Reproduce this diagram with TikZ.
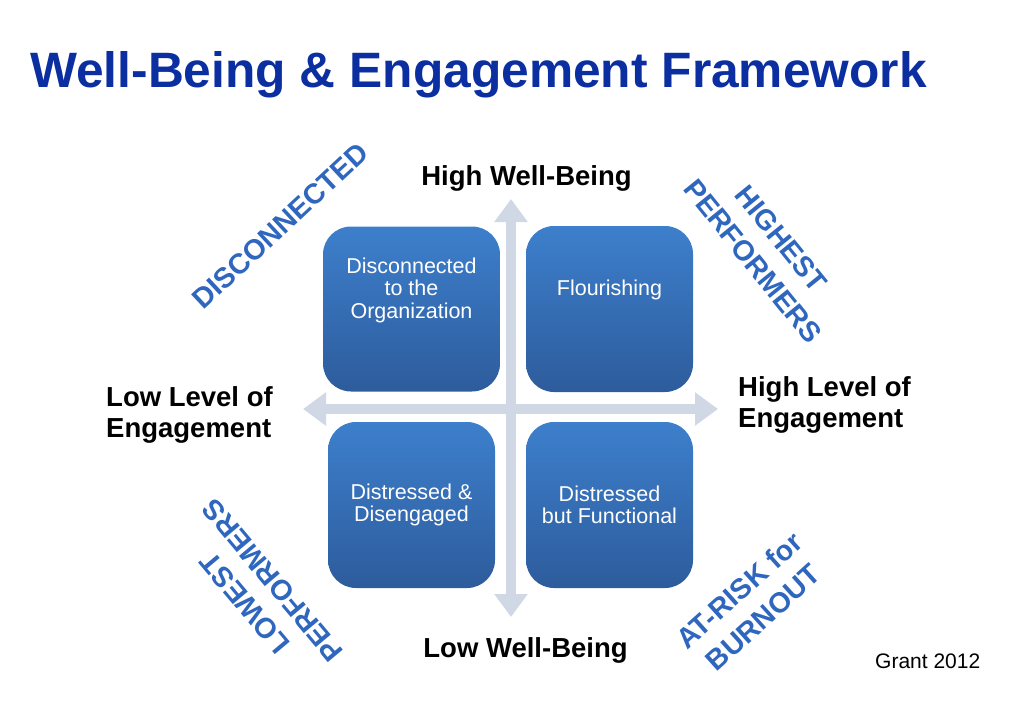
\documentclass[tikz,border=0pt]{standalone}
\usepackage{fontspec}
\setmainfont{Liberation Sans}
\usetikzlibrary{arrows.meta, calc, positioning}

\definecolor{titleblue}{HTML}{0B2FA0}
\definecolor{axisgray}{HTML}{D0D7E5}
\definecolor{boxtop}{HTML}{3D7FCC}
\definecolor{boxbottom}{HTML}{2D5C9C}
\definecolor{tagblue}{HTML}{2F67BF}

\begin{document}
\begin{tikzpicture}[x=1pt, y=-1pt,
    quadbox/.style = {rounded corners=28pt, top color=boxtop, bottom color=boxbottom,
                      inner sep=0pt, draw=none},
    boxlabel/.style = {text=white, align=center, inner sep=0pt,
                       font=\fontsize{21.5}{22.5}\selectfont},
    axislabel/.style = {inner sep=0pt, font=\fontsize{27.5}{30.5}\selectfont\bfseries},
    axisarrow/.style = {draw=axisgray, line width=10pt,
                        {Triangle[width=32pt,length=23pt]}-{Triangle[width=32pt,length=23pt]}},
    tag/.style = {text=tagblue, align=center, inner sep=0pt,
                  font=\fontsize{28.5}{36}\selectfont\bfseries}]
  \useasboundingbox (0,0) rectangle (1024,717);

  % title
  \node[anchor=base west, inner sep=0pt, text=titleblue,
        font=\fontsize{49.7}{52}\selectfont\bfseries] (title) at (30,87)
        {Well-Being \& Engagement Framework};

  % axes
  \coordinate (wb-top) at (511,199);
  \coordinate (wb-bottom) at (511,617);
  \coordinate (eng-left) at (303,409);
  \coordinate (eng-right) at (718,409);
  \draw[axisarrow] (eng-left) -- (eng-right);
  \draw[axisarrow] (wb-bottom) -- (wb-top);

  % quadrants
  \node[quadbox, minimum width=177pt, minimum height=165pt] (disconnected) at (411.5,309) {};
  \node[quadbox, minimum width=167pt, minimum height=166pt] (flourishing) at (609.5,309) {};
  \node[quadbox, minimum width=167pt, minimum height=166pt] (disengaged) at (411.5,505) {};
  \node[quadbox, minimum width=167pt, minimum height=166pt] (functional) at (609.5,505) {};

  \node[boxlabel, yshift=19pt] (disconnected-text) at (disconnected.center)
       {Disconnected\\to the\\Organization};
  \node[boxlabel, yshift=19pt] (flourishing-text) at (flourishing.center) {Flourishing};
  \node[boxlabel] (disengaged-text) at (disengaged.center) {Distressed \&\\Disengaged};
  \node[boxlabel] (functional-text) at (functional.center) {Distressed\\but Functional};

  % axis labels
  \node[axislabel, anchor=base] (high-wb) at (526.5,185) {High Well-Being};
  \node[axislabel, anchor=base] (low-wb) at (525.5,657) {Low Well-Being};
  \node[axislabel, anchor=base west, align=left] (low-eng) at (106,437)
       {Low Level of\\Engagement};
  \node[axislabel, anchor=base west, align=left] (high-eng) at (738,427)
       {High Level of\\Engagement};

  % corner tags
  \node[tag, rotate=43] (tag-disc) at (280,226) {DISCONNECTED};
  \node[tag, rotate=-51] (tag-high) at (767,250) {HIGHEST\\PERFORMERS};
  \node[tag, rotate=130] (tag-low) at (259,592) {LOWEST\\PERFORMERS};
  \node[tag, rotate=42] (tag-risk) at (751,604) {AT-RISK for\\BURNOUT};

  \node[anchor=base west, inner sep=0pt, font=\fontsize{21}{23}\selectfont] (source)
       at (875,668) {Grant 2012};
\end{tikzpicture}
\end{document}
